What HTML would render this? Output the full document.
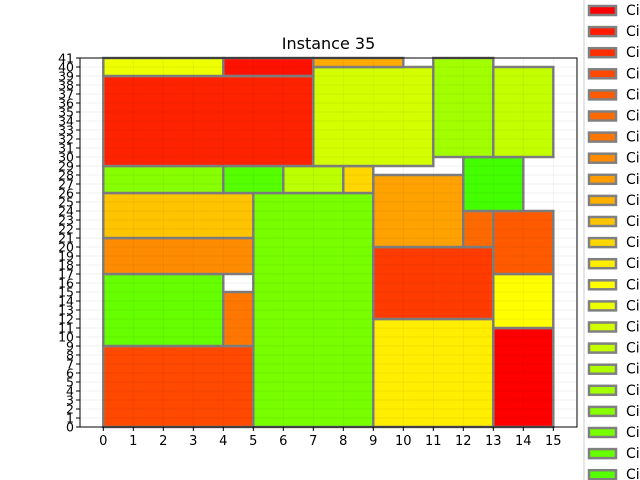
<!DOCTYPE html>
<html><head><meta charset="utf-8"><style>
body{margin:0;background:#fff;}
svg{display:block;font-family:"DejaVu Sans","Liberation Sans",sans-serif;}
</style></head><body>
<svg id="chart" width="640" height="480"></svg>
<script>
const xs=[0,5,9,13,0,4,0,0,9,13,13,9,12,12,0,4,6,8,0,7,11,13,0,4,7];
const ys=[0,0,0,0,9,9,17,21,12,11,17,20,20,24,26,26,26,26,29,29,30,30,39,39,40];
const ws=[5,4,4,2,4,1,5,5,4,2,2,3,1,2,4,2,2,1,7,4,2,2,4,3,3];
const hs=[9,26,12,11,8,6,4,5,8,6,7,8,4,6,3,3,3,3,10,11,11,10,2,2,1];
const fills=["#ff4800","#77ff00","#ffee00","#ff0000","#66ff00","#ff7700","#ff8c00","#ffc400","#ff3b00","#ffff00","#ff5a00","#ffa200","#ff6a00","#44ff00","#88ff00","#55ff00","#bbff00","#ffd700","#ff2200","#d4ff00","#a2ff00","#c4ff00","#eeff00","#ff1100","#ffaa00"];
const xTicks=[0,1,2,3,4,5,6,7,8,9,10,11,12,13,14,15];
const yTicks=Array.from({length:42},(_,i)=>i);
const legendColors=["#ff0000","#ff1a00","#ff2e00","#ff4800","#ff5a00","#ff6a00","#ff7700","#ff8c00","#ff9d00","#ffb000","#ffc400","#ffd700","#ffee00","#ffff00","#eeff00","#d4ff00","#c4ff00","#b0ff00","#a2ff00","#88ff00","#77ff00","#66ff00","#55ff00"];
const svg=document.getElementById('chart');
const NS="http://www.w3.org/2000/svg";
const L=80,R=577,T=58,B=427;
const X=v=>103.3+v*30, Y=v=>B-v*9;
function mk(t,a,p){const e=document.createElementNS(NS,t);for(const k in a)e.setAttribute(k,a[k]);(p||svg).appendChild(e);return e;}
const t=mk('text',{x:(L+R)/2,y:49,'text-anchor':'middle','font-size':16,fill:'#000'});t.textContent='Instance 35';


for(let i=0;i<xs.length;i++){
 const r=mk('rect',{x:X(xs[i]),y:Y(ys[i]+hs[i]),width:ws[i]*30,height:hs[i]*9,fill:fills[i],stroke:'#808080','stroke-width':2.5});
 
 
}
for(const v of xTicks){mk('line',{x1:X(v),x2:X(v),y1:T,y2:B,stroke:'#000','stroke-opacity':0.05,'stroke-width':1});
 mk('line',{x1:X(v),x2:X(v),y1:B,y2:B+4,stroke:'#000'});
 const l=mk('text',{x:X(v),y:B+18,'text-anchor':'middle','font-size':13});l.textContent=v;
 
 }
for(const v of yTicks){mk('line',{x1:L,x2:R,y1:Y(v),y2:Y(v),stroke:'#000','stroke-opacity':0.05,'stroke-width':1});
 mk('line',{x1:L-4,x2:L,y1:Y(v),y2:Y(v),stroke:'#000'});
 const l=mk('text',{x:L-6,y:Y(v)+4.5,'text-anchor':'end','font-size':12.5});l.textContent=v;
 
 }
const ax=mk('rect',{x:L,y:T,width:R-L,height:B-T,fill:'none',stroke:'#000','stroke-width':1});


const lg=mk('rect',{x:584,y:-5,width:70,height:500,fill:'#fff',stroke:'#ccc','stroke-width':1});


legendColors.forEach((c,i)=>{const y=10+i*21.1;
 const p=mk('rect',{x:589,y:y-4,width:27,height:9,fill:c,stroke:'#808080','stroke-width':2.5});
 
 
 const tx=mk('text',{x:626,y:y+5,'font-size':14});tx.textContent='City';
 
 });
</script>
</body></html>
